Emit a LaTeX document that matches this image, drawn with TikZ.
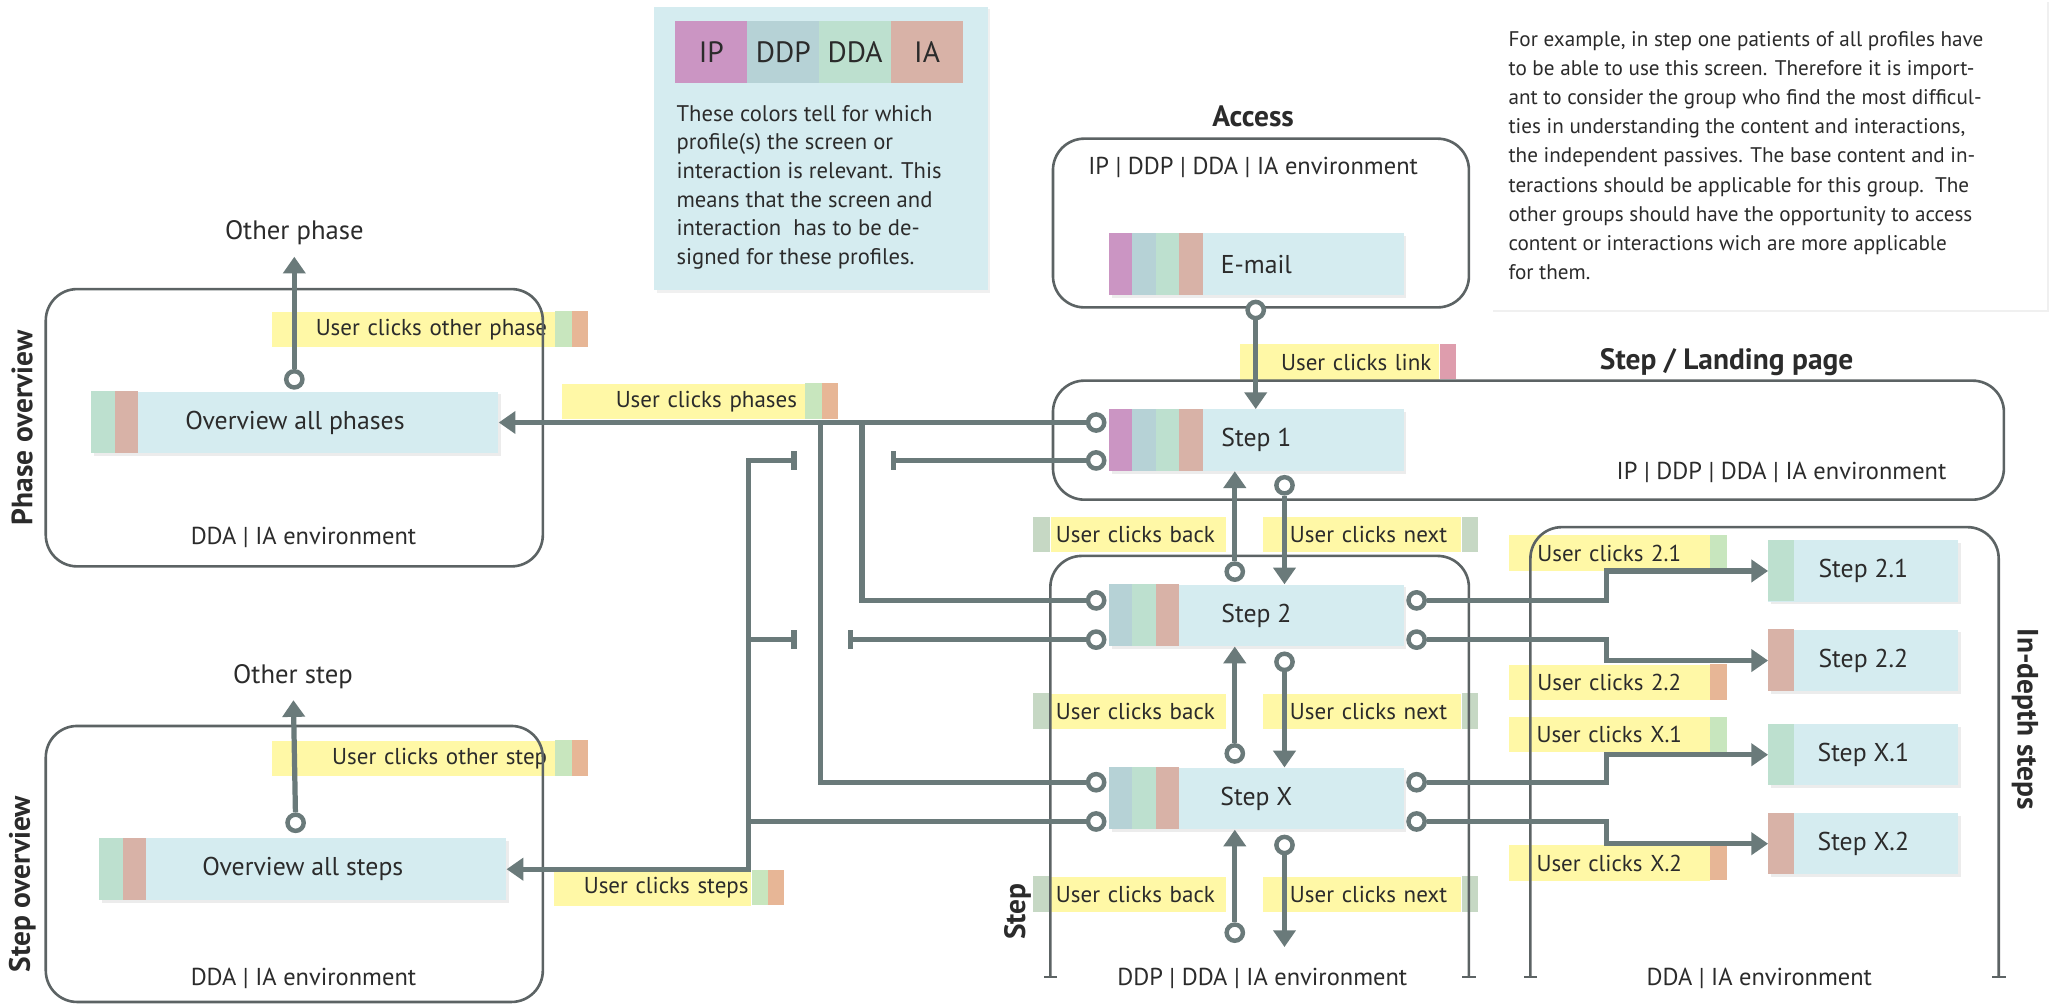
\documentclass[tikz,border=0pt]{standalone}
\usepackage{fontspec}
\setmainfont{PT Sans}
\usetikzlibrary{arrows.meta,shadows}

\definecolor{screenblue}{HTML}{D5ECF0}
\definecolor{profIP}{HTML}{CB95C3}
\definecolor{profDDP}{HTML}{B6D2D6}
\definecolor{profDDA}{HTML}{BDE0CF}
\definecolor{profIA}{HTML}{D8B2A7}
\definecolor{tagyellow}{HTML}{FFF8A6}
\definecolor{tabgreen}{HTML}{C8E6BE}
\definecolor{taborange}{HTML}{E7B696}
\definecolor{tabpink}{HTML}{DE9DAD}
\definecolor{tabgrey}{HTML}{C6D8C4}
\definecolor{linegrey}{HTML}{6A7A7A}
\definecolor{framegrey}{HTML}{5C6364}
\definecolor{inkgrey}{HTML}{2B2B2B}

\tikzset{
  flowhead/.tip={Triangle[width=4.2mm,length=3.2mm]},
  hop/.tip={Bar[width=3.6mm]},
  tick/.tip={Bar[width=2.6mm]},
  frame/.style={draw=framegrey, line width=0.5mm, rounded corners=6mm},
  screen/.style={fill=screenblue, minimum width=56.25mm, minimum height=11.75mm, inner sep=0,
    font=\fontsize{14}{16}\selectfont,
    drop shadow={opacity=0.15, shadow xshift=0.5mm, shadow yshift=-0.5mm}},
  tag/.style={fill=tagyellow, anchor=north west, minimum height=6.75mm, inner ysep=0,
    inner xsep=1.5mm, font=\fontsize{12.5}{14}\selectfont},
  port/.style={circle, draw=linegrey, fill=white, line width=0.85mm, minimum size=3.1mm, inner sep=0},
  link/.style={draw=linegrey, line width=1mm},
  flow/.style={link, -flowhead},
  env/.style={font=\fontsize{13.3}{15}\selectfont},
  title/.style={font=\fontsize{16}{18}\selectfont\bfseries},
}

% profile strips on the left edge of a screen
\newcommand{\screentabs}[2]{%
  \foreach \stripcol [count=\i from 0] in {#2}
    \fill[\stripcol] ([xshift=\i*4.5mm]#1.north west) rectangle ++(18,47);}
% profile strips on the right edge of a click label
\newcommand{\tagtabs}[2]{%
  \foreach \stripcol [count=\i from 0] in {#2}
    \fill[\stripcol] ([xshift=\i*3.125mm]#1.north east) rectangle ++(12.5,27);}

\begin{document}
\begin{tikzpicture}[x=0.25mm, y=-0.25mm, text=inkgrey]
\useasboundingbox (0,0) rectangle (1568,769);

% note and colour key
\path[fill=white, drop shadow={opacity=0.12, shadow xshift=0.4mm, shadow yshift=-0.4mm}] (1140,0) rectangle (1565,237);
\node[anchor=north west, inner sep=0, align=left, font=\fontsize{11.5}{15.8}\selectfont] (note) at (1153,24)
  {For example, in step one patients of all profiles have\\
   to be able to use this screen. Therefore it is import-\\
   ant to consider the group who find the most difficul-\\
   ties in understanding the content and interactions,\\
   the independent passives. The base content and in-\\
   teractions should be applicable for this group.\ \ The\\
   other groups should have the opportunity to access\\
   content or interactions wich are more applicable\\
   for them.};

\path[fill=screenblue, drop shadow={opacity=0.12, shadow xshift=0.5mm, shadow yshift=-0.5mm}] (500,5) rectangle (755,222);
\foreach \name/\keycol [count=\i from 0] in {IP/profIP, DDP/profDDP, DDA/profDDA, IA/profIA}
  \node[fill=\keycol, anchor=north west, minimum width=13.75mm, minimum height=11.75mm, inner sep=0,
    font=\fontsize{16}{18}\selectfont] (key\name) at (516+\i*55,16) {\name};
\node[anchor=north west, inner sep=0, align=left, font=\fontsize{12.3}{15.6}\selectfont] (keynote) at (517,80)
  {These colors tell for which\\
   profile(s) the screen or\\
   interaction is relevant. This\\
   means that the screen and\\
   interaction\ \ has to be de-\\
   signed for these profiles.};

% click labels
\node[tag, text width=51mm, align=right] (tOtherPh) at (208,238) {User clicks other phase};
\tagtabs{tOtherPh}{tabgreen,taborange}
\node[tag, text width=43.5mm, align=right] (tPhases) at (429,293) {User clicks phases};
\tagtabs{tPhases}{tabgreen,taborange}
\node[tag, text width=51mm, align=right] (tOtherSt) at (208,566) {User clicks other step};
\tagtabs{tOtherSt}{tabgreen,taborange}
\node[tag, text width=36.75mm, inner xsep=0.5mm, align=right] (tSteps) at (423,665) {User clicks steps};
\tagtabs{tSteps}{tabgreen,taborange}
\node[tag, text width=35mm, inner xsep=1.5mm, align=right] (tLink) at (948,263) {User clicks link};
\tagtabs{tLink}{tabpink}
\foreach \y [count=\k] in {395,530,670} {
  \node[tag, text width=31.5mm, inner xsep=1mm, align=left] (tBack\k) at (803,\y) {User clicks back};
  \fill[tabgrey] (tBack\k.north west) rectangle ++(-13,27);
  \node[tag, text width=32.5mm, inner xsep=2.75mm, align=right] (tNext\k) at (965,\y) {User clicks next};
  \tagtabs{tNext\k}{tabgrey}
}
\foreach \y/\s/\tabcol [count=\k] in {409/2.1/tabgreen, 508/2.2/taborange, 548/X.1/tabgreen, 646/X.2/taborange} {
  \node[tag, text width=35.5mm, align=center] (tDeep\k) at (1153,\y) {User clicks \s};
  \tagtabs{tDeep\k}{\tabcol}
}

% environments
\draw[frame] (35,221) rectangle (415,433);
\draw[frame] (35,555) rectangle (415,766);
\draw[frame] (805,106) rectangle (1123,235);
\draw[frame] (805,291) rectangle (1532,382);
\draw[frame, tick-tick] (803,748) -- (803,425) -- (1123,425) -- (1123,748);
\draw[frame, tick-tick] (1170,748) -- (1170,403) -- (1528,403) -- (1528,748);

% screens
\node[screen] (email) at (960.5,202) {E-mail};
\screentabs{email}{profIP,profDDP,profDDA,profIA}
\node[screen] (step1) at (960.5,336.5) {Step 1};
\screentabs{step1}{profIP,profDDP,profDDA,profIA}
\node[screen] (step2) at (960.5,470.5) {Step 2};
\screentabs{step2}{profDDP,profDDA,profIA}
\node[screen] (stepX) at (960.5,610.5) {Step X};
\screentabs{stepX}{profDDP,profDDA,profIA}
\node[screen, minimum width=77.75mm] (allph) at (225.5,323) {Overview all phases};
\screentabs{allph}{profDDA,profIA}
\node[screen, minimum width=77.75mm] (allst) at (231.5,664.5) {Overview all steps};
\screentabs{allst}{profDDA,profIA}
\foreach \y/\s/\deepcol [count=\k] in {436.5/2.1/profDDA, 505/2.2/profIA, 577/X.1/profDDA, 645/X.2/profIA} {
  \node[screen, minimum width=36.25mm] (deep\k) at (1424.5,\y) {Step \s};
  \fill[\deepcol] (deep\k.north west) rectangle ++(20,47);
}

% ports
\foreach \n/\x/\y in {pMail/960/237, pPh/225/290, pSt/226/629,
    p1a/838/323, p1b/838/352, p1s/982/371,
    p2n/944/437, p2a/838/459, p2b/838/489, p2c/1083/459, p2d/1083/489, p2s/982/506,
    pXn/944/576, pXa/838/598, pXb/838/628, pXc/1083/598, pXd/1083/628, pXs/982/646, pXe/944/713}
  \node[port] (\n) at (\x,\y) {};

% texts
\node (otherPh) at (225,178) {\fontsize{14.5}{16}\selectfont Other phase};
\node (otherSt) at (224,517) {\fontsize{14.5}{16}\selectfont Other step};
\coordinate (nextX) at (982,724);

% connectors
\draw[flow] (pMail) -- (pMail |- step1.north);
\draw[flow, shorten >=1mm] (pPh) -- (otherPh);
\draw[flow, shorten >=1mm] (pSt) -- (otherSt);
\draw[flow] (p1a) -- (allph);
\draw[link] (627,323) |- (pXa);
\draw[link] (659,323) |- (p2a);
\draw[link, -hop] (p1b) -- (681,352);
\draw[link, hop-flowhead] (609,352) -- (572,352) |- (allst);
\draw[link, -hop] (p2b) -- (648,489);
\draw[link, hop-] (609,489) -- (572,489);
\draw[link] (pXb) -- (572,628);

\draw[flow] (p2n) -- (p2n |- step1.south);
\draw[flow] (p1s) -- (p1s |- step2.north);
\draw[flow] (pXn) -- (pXn |- step2.south);
\draw[flow] (p2s) -- (p2s |- stepX.north);
\draw[flow] (pXe) -- (pXe |- stepX.south);
\draw[flow] (pXs) -- (nextX);

\draw[flow] (p2c) -- (1228,459) |- (deep1);
\draw[flow] (p2d) -- (1228,489) |- (deep2);
\draw[flow] (pXc) -- (1228,598) |- (deep3);
\draw[flow] (pXd) -- (1228,628) |- (deep4);

% titles
\node[title] (hAccess) at (958,89) {Access};
\node[title] (hLanding) at (1320,277) {Step / Landing page};
\node[title, rotate=90] (hPhase) at (17,327) {Phase overview};
\node[title, rotate=90] (hStepOv) at (17,676) {Step overview};
\node[title, rotate=90] (hStep) at (778,697) {Step};
\node[title, rotate=-90] (hDeep) at (1548,550) {In-depth steps};

\node[env] (eAccess) at (958,128) {IP | DDP | DDA | IA environment};
\node[env] (eLanding) at (1362,361) {IP | DDP | DDA | IA environment};
\node[env] (ePhase) at (232,411) {DDA | IA environment};
\node[env] (eStepOv) at (232,748) {DDA | IA environment};
\node[env] (eStep) at (965,748) {DDP | DDA | IA environment};
\node[env] (eDeep) at (1345,748) {DDA | IA environment};
\end{tikzpicture}
\end{document}
